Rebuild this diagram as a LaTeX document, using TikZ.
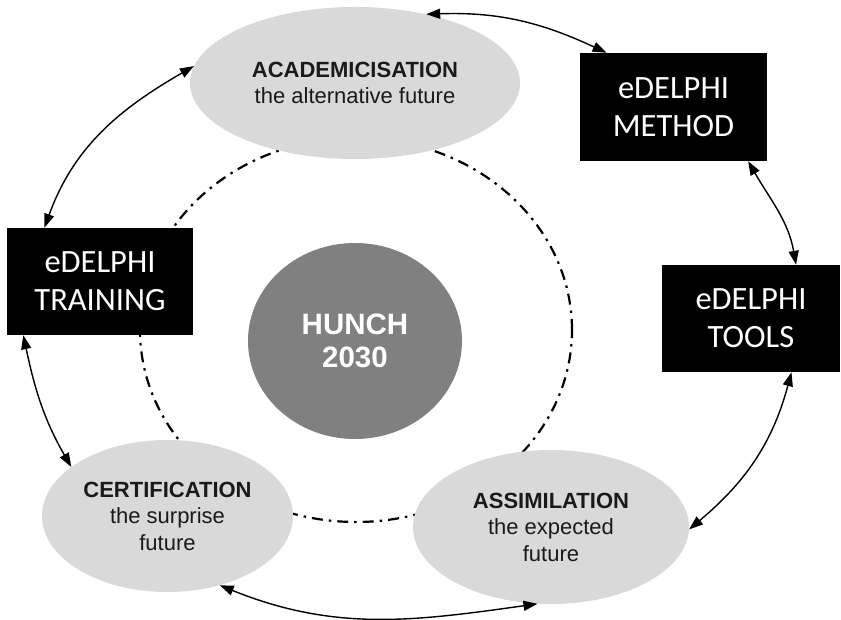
\documentclass[tikz,border=0pt]{standalone}
\usepackage{fontspec}
\setmainfont{Liberation Sans}
\newfontfamily\calib{Carlito}
\usetikzlibrary{arrows.meta,shapes.geometric}
\definecolor{ovalgray}{HTML}{D9D9D9}
\definecolor{hunchgray}{HTML}{808080}
\definecolor{ovaltext}{HTML}{1A1A1A}
\begin{document}
\begin{tikzpicture}[x=1pt,y=1pt,
  oval/.style={ellipse, fill=ovalgray, inner sep=0pt, align=center, text=ovaltext,
    font=\fontsize{22}{26.5}\selectfont},
  blackbox/.style={rectangle, fill=black, text=white, inner sep=0pt, align=center,
    font=\calib\fontsize{32.5}{38}\selectfont},
  link/.style={{Triangle[length=14pt,width=10pt]}-{Triangle[length=14pt,width=10pt]}, line width=1.4pt},
  ring/.style={ellipse, draw, inner sep=0pt, line width=2.2pt,
    dash pattern=on 11pt off 6pt on 2.5pt off 6pt}]
\path[use as bounding box, fill=white] (0,0) rectangle (841,619);

\node[ring, minimum width=432pt, minimum height=384pt] (ring) at (356,289) {};

\node[oval, minimum width=330pt, minimum height=152pt] (acad) at (355,536)
  {\textbf{ACADEMICISATION}\\the alternative future};
\node[oval, minimum width=251pt, minimum height=152pt] (cert) at (167.5,103)
  {\textbf{CERTIFICATION}\\the surprise\\future};
\node[oval, minimum width=276pt, minimum height=154pt] (assim) at (551,92)
  {\textbf{ASSIMILATION}\\the expected\\future};

\node[ellipse, fill=hunchgray, inner sep=0pt, minimum width=214pt, minimum height=196pt,
  text=white, align=center, font=\bfseries\fontsize{29.5}{33}\selectfont] (hunch) at (355,278)
  {HUNCH\\2030};

\node[blackbox, minimum width=187pt, minimum height=108pt] (method) at (673.5,512)
  {eDELPHI\\METHOD};
\node[blackbox, minimum width=186pt, minimum height=107pt] (training) at (100,337.5)
  {eDELPHI\\TRAINING};
\node[blackbox, minimum width=178pt, minimum height=107pt] (tools) at (751,300.5)
  {eDELPHI\\TOOLS};

\draw[link] (acad.44) to[out=2,in=155] (method.141.7);
\draw[link] (method.-36.3) to[out=-60,in=100] (tools.50.6);
\draw[link] (tools.-53.9) to[out=-105,in=40] (assim.-1);
\draw[link] (cert.-53) to[out=-22,in=188] (assim.-100.9);
\draw[link] (training.215.5) to[out=-78,in=120] (cert.153.8);
\draw[link] (training.136.8) to[out=70,in=210] (acad.174.2);
\end{tikzpicture}
\end{document}
